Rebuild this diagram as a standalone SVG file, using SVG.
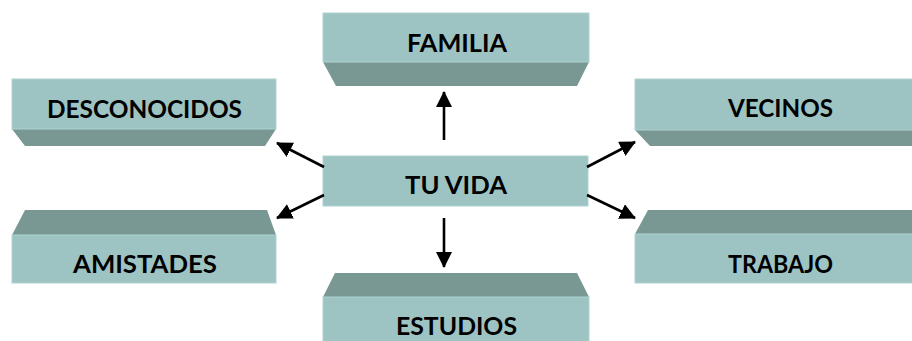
<svg xmlns="http://www.w3.org/2000/svg" width="912" height="341" viewBox="0 0 912 341">
<defs>
<style>
.face{fill:#9dc4c3;stroke:#aed3d2;stroke-width:1}
.bevel{fill:#799894}
.lbl{font-family:Lato,"Open Sans","Liberation Sans",sans-serif;font-weight:bold;font-size:25px;fill:#000;text-anchor:middle}
.conn{stroke:#000;stroke-width:2.6;fill:none;marker-end:url(#ah)}
</style>
<marker id="ah" markerUnits="userSpaceOnUse" markerWidth="16" markerHeight="16" viewBox="0 0 16 16" refX="15" refY="8" orient="auto">
<path d="M0,0 L16,8 L0,16 z" fill="#000"/>
</marker>
</defs>
<rect width="912" height="341" fill="#fff"/>
<g id="familia">
<polygon class="bevel" points="323,62 589,62 577,86 336,86"/>
<rect class="face" x="323" y="13" width="266" height="49"/>
<text class="lbl" x="457" y="52" textLength="100" lengthAdjust="spacingAndGlyphs">FAMILIA</text>
</g>
<g id="desconocidos">
<polygon class="bevel" points="12,129 276,129 265,146 25,146"/>
<rect class="face" x="12" y="79" width="264" height="50"/>
<text class="lbl" x="144.5" y="118" textLength="195" lengthAdjust="spacingAndGlyphs">DESCONOCIDOS</text>
</g>
<g id="vecinos">
<polygon class="bevel" points="635,130 926,130 914,146 650,146"/>
<rect class="face" x="635" y="79" width="291" height="51"/>
<text class="lbl" x="780.5" y="117" textLength="105" lengthAdjust="spacingAndGlyphs">VECINOS</text>
</g>
<g id="tuvida">
<rect class="face" x="323" y="156" width="265" height="50"/>
<text class="lbl" x="456" y="194" textLength="102" lengthAdjust="spacingAndGlyphs">TU VIDA</text>
</g>
<g id="amistades">
<polygon class="bevel" points="25,210 267,210 276,235 12,235"/>
<rect class="face" x="12" y="235" width="264" height="48"/>
<text class="lbl" x="145" y="273" textLength="144" lengthAdjust="spacingAndGlyphs">AMISTADES</text>
</g>
<g id="trabajo">
<polygon class="bevel" points="648,210 914,210 926,234 635,234"/>
<rect class="face" x="635" y="234" width="291" height="49"/>
<text class="lbl" x="780.5" y="273" textLength="105" lengthAdjust="spacingAndGlyphs">TRABAJO</text>
</g>
<g id="estudios">
<polygon class="bevel" points="335,273 577,273 589,297 323,297"/>
<rect class="face" x="323" y="297" width="266" height="50"/>
<text class="lbl" x="456.5" y="335" textLength="121" lengthAdjust="spacingAndGlyphs">ESTUDIOS</text>
</g>
<g id="connectors">
<line class="conn" x1="444" y1="140" x2="444" y2="92"/>
<line class="conn" x1="444" y1="218" x2="444" y2="267"/>
<line class="conn" x1="324" y1="167" x2="277" y2="143"/>
<line class="conn" x1="324" y1="195" x2="277" y2="218"/>
<line class="conn" x1="587" y1="167" x2="635" y2="142"/>
<line class="conn" x1="587" y1="195" x2="635" y2="218"/>
</g>
</svg>
